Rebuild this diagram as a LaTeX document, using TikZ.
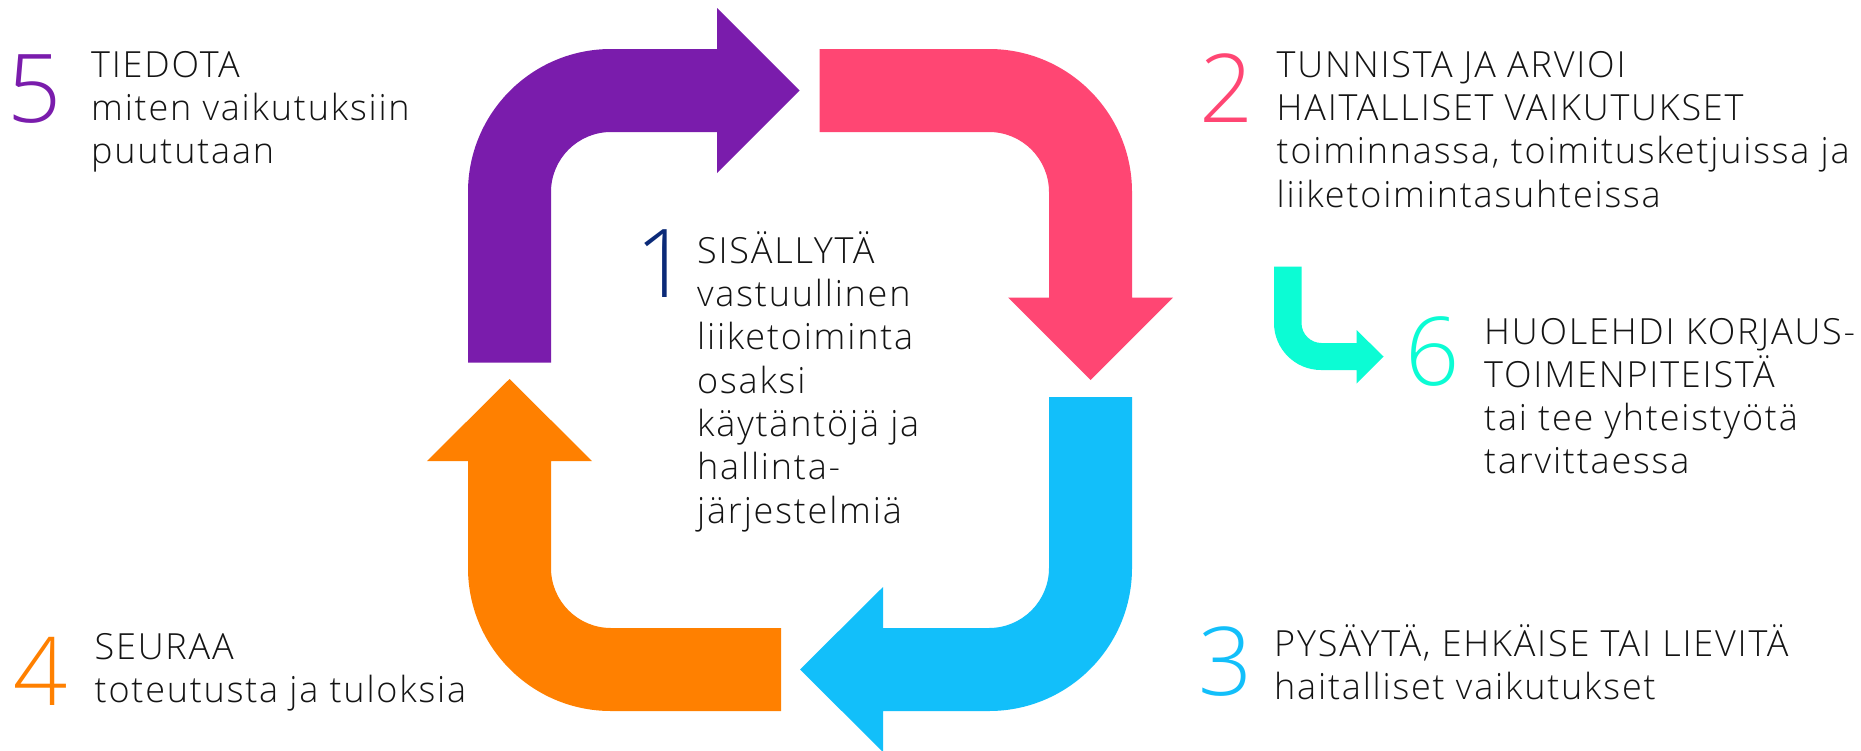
\documentclass[tikz,border=0pt]{standalone}
\usepackage{fontspec}
\setmainfont{Open Sans Light}[LetterSpace=5]
\newfontfamily\digitfont{Open Sans Light}
\definecolor{cPurple}{HTML}{7A1CAC}
\definecolor{cPink}{HTML}{FF4673}
\definecolor{cBlue}{HTML}{12BFFA}
\definecolor{cOrange}{HTML}{FF8000}
\definecolor{cTeal}{HTML}{0CFCD4}
\definecolor{cNavy}{HTML}{0B2A78}
\definecolor{cText}{HTML}{141414}
\newcommand{\txtblock}[1]{\vtop{\baselineskip=43.3pt\lineskiplimit=-1000pt\lineskip=0pt\halign{##\hfil\cr#1\crcr}}}
\begin{document}
\begin{tikzpicture}[x=1pt,y=1pt,yscale=-1,
  lbl/.style={anchor=base west,inner sep=0pt,text=cText,font=\fontsize{36}{43.3}\selectfont},
  num/.style={anchor=base west,inner sep=0pt,font=\digitfont\fontsize{95}{95}\selectfont}]
\useasboundingbox[fill=white] (0,0) rectangle (1861,750);
% purple arrow (5)
\fill[cPurple] (468,362.7) -- (468,192) arc[start angle=180,end angle=270,radius=143]
  -- (717,49) -- (717,8) -- (799.5,90.5) -- (717,173) -- (717,132) -- (611,132)
  arc[start angle=270,end angle=180,radius=60] -- (551,362.7) -- cycle;
% pink arrow (2)
\fill[cPink] (819.5,49) -- (989,49) arc[start angle=270,end angle=360,radius=143]
  -- (1132,297.5) -- (1173,297.5) -- (1090.5,380) -- (1008,297.5) -- (1049,297.5) -- (1049,192)
  arc[start angle=360,end angle=270,radius=60] -- (819.5,132) -- cycle;
% blue arrow (3)
\fill[cBlue] (1049,397) -- (1132,397) -- (1132,568) arc[start angle=0,end angle=90,radius=143]
  -- (883,711) -- (883,752) -- (800,669.5) -- (883,587) -- (883,628) -- (989,628)
  arc[start angle=90,end angle=0,radius=60] -- cycle;
% orange arrow (4)
\fill[cOrange] (781,711) -- (611,711) arc[start angle=90,end angle=180,radius=143]
  -- (468,461) -- (427,461) -- (509.5,379) -- (592,461) -- (551,461) -- (551,568)
  arc[start angle=180,end angle=90,radius=60] -- (781,628) -- cycle;
% teal arrow (6)
\fill[cTeal] (1274,266.5) -- (1274,323) arc[start angle=180,end angle=90,radius=47]
  -- (1356.5,370) -- (1356.5,383.5) -- (1383.5,356.5) -- (1356.5,330) -- (1356.5,343) -- (1321.5,343)
  arc[start angle=90,end angle=180,radius=20] -- (1301.5,266.5) -- cycle;
% numbers
\node[num,text=cPurple] (n5) at (7.5,122) {5};
\node[num,text=cPink] (n2) at (1199,122.7) {2};
\node[num,text=cBlue] (n3) at (1198.5,695.7) {3};
\node[num,text=cOrange] (n4) at (13,705) {4};
\node[num,text=cNavy] (n1) at (635.5,297) {1};
\node[num,text=cTeal] (n6) at (1405,385.7) {6};
% texts
\node[lbl] (t5) at (91,77.3) {\txtblock{TIEDOTA\cr miten vaikutuksiin\cr puututaan}};
\node[lbl] (t2) at (1276.5,77.3) {\txtblock{TUNNISTA JA ARVIOI\cr HAITALLISET VAIKUTUKSET\cr toiminnassa, toimitusketjuissa ja\cr liiketoimintasuhteissa}};
\node[lbl] (t1) at (697,263.3) {\txtblock{SISÄLLYTÄ\cr vastuullinen\cr liiketoiminta\cr osaksi\cr käytäntöjä ja\cr hallinta-\cr järjestelmiä}};
\node[lbl] (t6) at (1484,344) {\txtblock{HUOLEHDI KORJAUS-\cr TOIMENPITEISTÄ\cr tai tee yhteistyötä\cr tarvittaessa}};
\node[lbl] (t3) at (1274,656) {\txtblock{PYSÄYTÄ, EHKÄISE TAI LIEVITÄ\cr haitalliset vaikutukset}};
\node[lbl] (t4) at (94.5,659) {\txtblock{SEURAA\cr toteutusta ja tuloksia}};
\end{tikzpicture}
\end{document}
